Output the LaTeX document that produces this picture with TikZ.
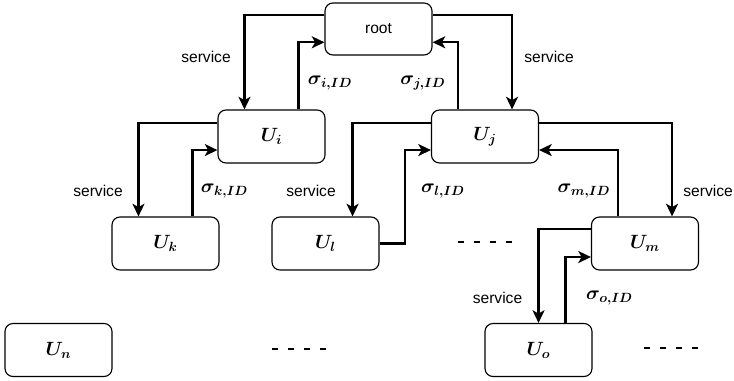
\documentclass[tikz,border=0pt]{standalone}
\usepackage{fontspec}
\usepackage{bm}
\newfontfamily\labelfont{Liberation Sans}
\usetikzlibrary{arrows.meta,calc}

\begin{document}
\begin{tikzpicture}[x=0.75pt,y=-0.75pt,
  box/.style={draw, rounded corners=6pt, line width=0.85pt,
    minimum width=80.25pt, minimum height=39.75pt, inner sep=0pt,
    font=\fontsize{14}{16}\selectfont},
  link/.style={line width=1.6pt, -{Stealth[length=9.5pt,width=9pt,inset=2.5pt]}},
  tag/.style={font=\labelfont\fontsize{11.7}{14}\selectfont, inner sep=0pt},
  sig/.style={font=\fontsize{14}{16}\selectfont, inner sep=0pt},
  more/.style={line width=1.6pt, dash pattern=on 4.5pt off 7.5pt}
]
\useasboundingbox (0,0) rectangle (734,381);

% users
\node[box, font=\labelfont\fontsize{11.7}{14}\selectfont, minimum height=39pt] (root) at (378.5,29) {root};
\node[box] (Ui) at (271.5,136.5) {$\bm{U_i}$};
\node[box] (Uj) at (485,136.5) {$\bm{U_j}$};
\node[box] (Uk) at (165.5,243.5) {$\bm{U_k}$};
\node[box] (Ul) at (325.5,243.5) {$\bm{U_l}$};
\node[box] (Um) at (645,243.5) {$\bm{U_m}$};
\node[box] (Un) at (58.5,350) {$\bm{U_n}$};
\node[box] (Uo) at (538.5,350) {$\bm{U_o}$};

% root <-> U_i
\draw[link] ($(root.north west)!0.23!(root.south west)$) -| ($(Ui.north west)!0.25!(Ui.north east)$);
\draw[link] ($(Ui.north west)!0.75!(Ui.north east)$) |- ($(root.north west)!0.75!(root.south west)$);
% root <-> U_j
\draw[link] ($(root.north east)!0.23!(root.south east)$) -| ($(Uj.north west)!0.75!(Uj.north east)$);
\draw[link] ($(Uj.north west)!0.25!(Uj.north east)$) |- ($(root.north east)!0.75!(root.south east)$);

% U_i <-> U_k
\draw[link] ($(Ui.north west)!0.25!(Ui.south west)$) -| ($(Uk.north west)!0.25!(Uk.north east)$);
\draw[link] ($(Uk.north west)!0.75!(Uk.north east)$) |- ($(Ui.north west)!0.75!(Ui.south west)$);

% U_j <-> U_l
\coordinate (lbend) at ($(Ul.east)!0.5!(Ul.east -| Uj.west)$);
\draw[link] ($(Uj.north west)!0.25!(Uj.south west)$) -| ($(Ul.north west)!0.75!(Ul.north east)$);
\draw[link] (Ul.east) -- (lbend) |- ($(Uj.north west)!0.75!(Uj.south west)$);

% U_j <-> U_m
\draw[link] ($(Uj.north east)!0.25!(Uj.south east)$) -| ($(Um.north west)!0.75!(Um.north east)$);
\draw[link] ($(Um.north west)!0.25!(Um.north east)$) |- ($(Uj.north east)!0.75!(Uj.south east)$);

% U_m <-> U_o
\draw[link] ($(Um.north west)!0.23!(Um.south west)$) -| (Uo.north);
\draw[link] ($(Uo.north west)!0.75!(Uo.north east)$) |- ($(Um.north west)!0.75!(Um.south west)$);

% edge labels
\node[tag] (s1) at (206,57) {service};
\node[tag] (s2) at (549,57) {service};
\node[tag] (s3) at (98,191) {service};
\node[tag] (s4) at (311,191) {service};
\node[tag, anchor=east] (s5) at (733,191) {service};
\node[tag] (s6) at (497.5,298) {service};

\node[sig] (gi) at (330,83) {$\bm{\sigma_{i,ID}}$};
\node[sig] (gj) at (423,83) {$\bm{\sigma_{j,ID}}$};
\node[sig] (gk) at (224.5,191) {$\bm{\sigma_{k,ID}}$};
\node[sig] (gl) at (443,191) {$\bm{\sigma_{l,ID}}$};
\node[sig] (gm) at (584,191) {$\bm{\sigma_{m,ID}}$};
\node[sig] (go) at (609.5,298) {$\bm{\sigma_{o,ID}}$};

% further users, elided
\coordinate (d1) at (458,242);
\coordinate (d2) at (272,349);
\coordinate (d3) at (644,348);
\draw[more] (d1) -- ++(54,0);
\draw[more] (d2) -- ++(54,0);
\draw[more] (d3) -- ++(54,0);
\end{tikzpicture}
\end{document}
